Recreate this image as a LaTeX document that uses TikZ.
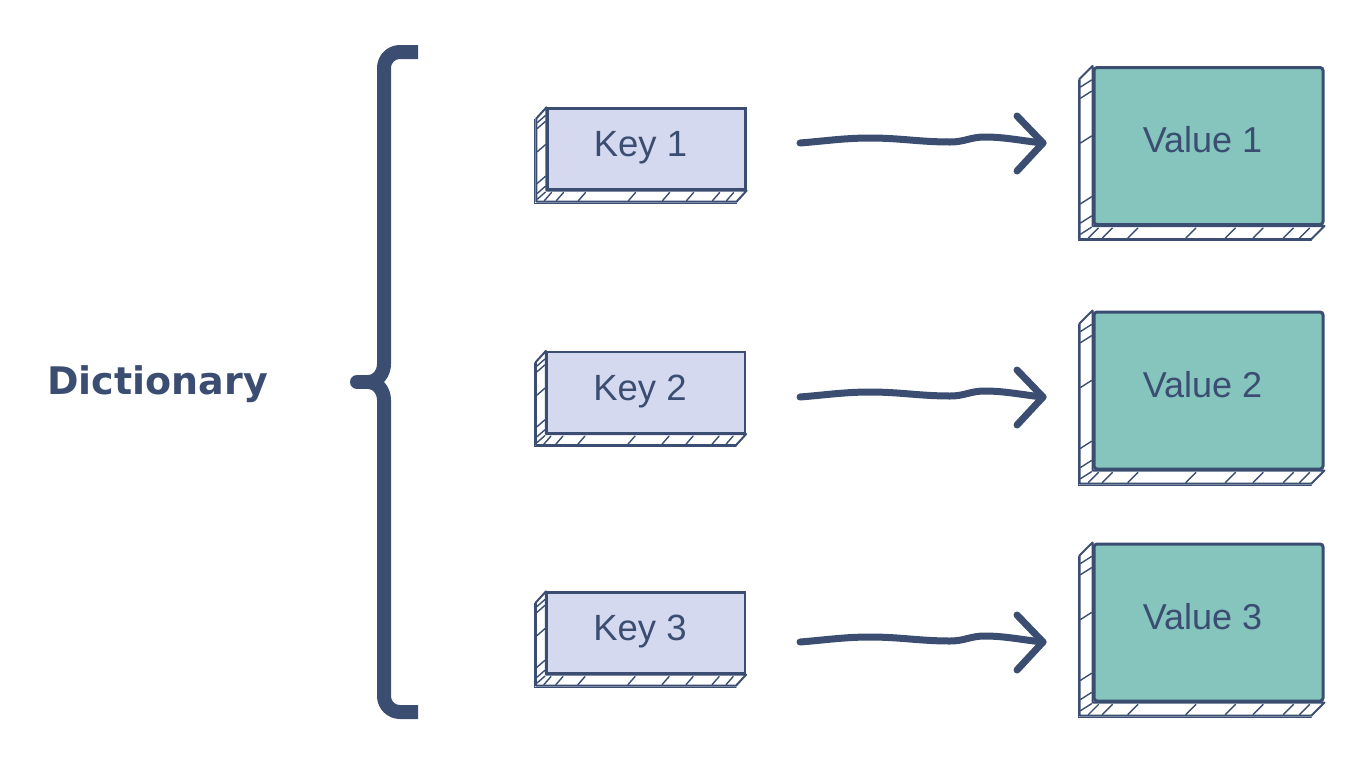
\documentclass[tikz,border=0pt]{standalone}
\usepackage{fontspec}
\setmainfont{Liberation Sans}
\newfontfamily\dictfont{DejaVu Sans}
\usetikzlibrary{calc}
\definecolor{ink}{RGB}{59,78,114}
\definecolor{keyfill}{RGB}{213,217,240}
\definecolor{valfill}{RGB}{133,197,189}
\newcommand\extrude[3]{%
  \filldraw[sideline,fill=white] (#1.north west) -- ++(-#2,#3) |- ($(#1.south east)+(-#2,#3)$) -- (#1.south east) -- (#1.south west) -- cycle;
  \draw[hatch,line width=0.9pt] ($(#1.north west)+(-#2-1.5,#3+1)$) -- ($(#1.south west)+(-#2-1.5,#3+1.5)$) -- ($(#1.south east)+(-#2,#3+1.5)$);
  \foreach \f in {0.03,0.09,0.2,0.45,0.62,0.74,0.87,0.94}
    \draw[hatch] ($(#1.south west)!\f!(#1.south east)+(-#2+2,#3-1)$) -- ++(#2-3,-#3+3);
  \foreach \f in {0.05,0.12,0.4,0.78,0.9,0.97}
    \draw[hatch] ($(#1.north west)!\f!(#1.south west)+(-#2+1,#3)$) -- ++(#2-2,-7);
}
\newcommand\wavy[2]{%
  \draw[arr] (#1) .. controls +(25,-2) and +(-25,0) .. ++(70,-5)
    .. controls +(30,0) and +(-30,0) .. ++(80,4)
    .. controls +(15,0) and +(-15,0) .. ++(35,-5)
    .. controls +(20,0) and +(-20,-2) .. (#2);
  \draw[arr] ($(#2)+(-26,-27)$) -- (#2) -- ($(#2)+(-26,28)$);
}
\begin{document}
\begin{tikzpicture}[x=1pt,y=-1pt,
  keybox/.style={draw=ink,line width=2.2pt,fill=keyfill,minimum width=198pt,minimum height=81pt,inner sep=0pt},
  valbox/.style={draw=ink,line width=3pt,fill=valfill,rounded corners=3pt,minimum width=229pt,minimum height=157pt,inner sep=0pt},
  keytext/.style={text=ink,font=\fontsize{36.5}{40}\selectfont,inner sep=0pt},
  valtext/.style={text=ink,font=\fontsize{36}{40}\selectfont,inner sep=0pt},
  sideline/.style={draw=ink,line width=2pt,line join=round},
  hatch/.style={draw=ink,line width=1.4pt,line cap=round},
  arr/.style={draw=ink,line width=7pt,line cap=round,line join=round},
  bracel/.style={draw=ink,line width=14pt,line cap=butt,line join=round}]
\useasboundingbox (0,0) rectangle (1372,772);
\fill[white] (0,0) rectangle (1372,772);

% Dictionary label
\node[text=ink,font=\dictfont\bfseries\fontsize{38}{40}\selectfont,inner sep=0pt] (dict) at (157.5,384) {Dictionary};

% brace
\coordinate (bt) at (418,52);
\coordinate (bb) at (418,712);
\coordinate (bm) at (357,382);
\draw[bracel] (bt) -- (400,52) to[out=180,in=90] (384,68) -- (384,364) to[out=270,in=0] (368,382);
\draw[bracel] (bb) -- (400,712) to[out=180,in=270] (384,696) -- (384,400) to[out=90,in=0] (368,382);
\draw[bracel,line cap=round] (370,382) -- (bm);

% keys
\node[keybox] (k1) at (646.5,149) {};
\node[keybox] (k2) at (646,392.5) {};
\node[keybox] (k3) at (646,633) {};
\extrude{k1}{10}{11}
\extrude{k2}{10}{11}
\extrude{k3}{10}{11}
\node[keytext] (k1t) at ($(k1)+(-6,-1)$) {Key 1};
\node[keytext] (k2t) at ($(k2)+(-6,-1)$) {Key 2};
\node[keytext] (k3t) at ($(k3)+(-6,-1)$) {Key 3};

% values
\node[valbox] (v1) at (1208.5,146) {};
\node[valbox] (v2) at (1208.5,390.5) {};
\node[valbox] (v3) at (1208.5,622.5) {};
\extrude{v1}{13}{13}
\extrude{v2}{13}{13}
\extrude{v3}{13}{13}
\node[valtext] (v1t) at ($(v1)+(-6,-6)$) {Value 1};
\node[valtext] (v2t) at ($(v2)+(-6,-6)$) {Value 2};
\node[valtext] (v3t) at ($(v3)+(-6,-6)$) {Value 3};

% arrows
\coordinate (a1s) at (800,143);
\coordinate (a1e) at (1043,143);
\coordinate (a2s) at (800,397);
\coordinate (a2e) at (1043,397);
\coordinate (a3s) at (800,642);
\coordinate (a3e) at (1043,642);
\wavy{a1s}{a1e}
\wavy{a2s}{a2e}
\wavy{a3s}{a3e}
\end{tikzpicture}
\end{document}
